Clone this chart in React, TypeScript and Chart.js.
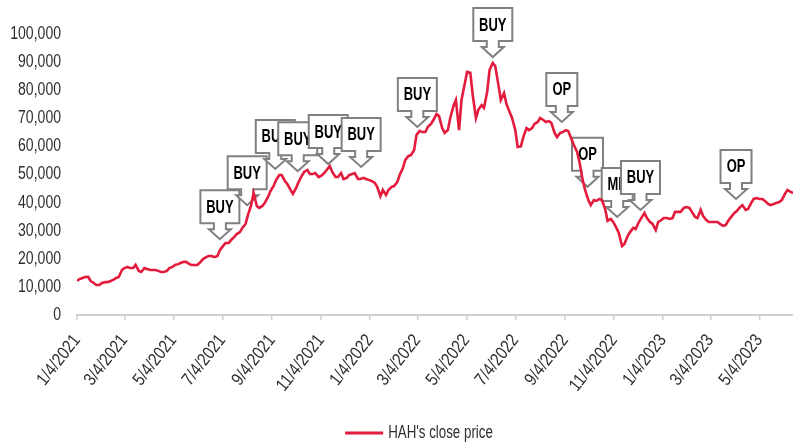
import { useEffect, useRef } from "react";
import { Chart, registerables } from "chart.js";

Chart.register(...registerables);

const FONT = '"Liberation Sans", Arial, "Noto Sans", sans-serif';
const SQUEEZE = 0.78; // narrow-typeface look
const FONT_SIZE = 18;

const seriesName = "HAH's close price";

// Weekly sessions: Monday close (weekStarts) and Thursday close (three days later)
const weekStarts = [
  "2021-01-04", "2021-01-11", "2021-01-18", "2021-01-25",
  "2021-02-01", "2021-02-08", "2021-02-15", "2021-02-22",
  "2021-03-01", "2021-03-08", "2021-03-15", "2021-03-22", "2021-03-29",
  "2021-04-05", "2021-04-12", "2021-04-19", "2021-04-26",
  "2021-05-03", "2021-05-10", "2021-05-17", "2021-05-24", "2021-05-31",
  "2021-06-07", "2021-06-14", "2021-06-21", "2021-06-28",
  "2021-07-05", "2021-07-12", "2021-07-19", "2021-07-26",
  "2021-08-02", "2021-08-09", "2021-08-16", "2021-08-23", "2021-08-30",
  "2021-09-06", "2021-09-13", "2021-09-20", "2021-09-27",
  "2021-10-04", "2021-10-11", "2021-10-18", "2021-10-25",
  "2021-11-01", "2021-11-08", "2021-11-15", "2021-11-22", "2021-11-29",
  "2021-12-06", "2021-12-13", "2021-12-20", "2021-12-27",
  "2022-01-03", "2022-01-10", "2022-01-17", "2022-01-24", "2022-01-31",
  "2022-02-07", "2022-02-14", "2022-02-21", "2022-02-28",
  "2022-03-07", "2022-03-14", "2022-03-21", "2022-03-28",
  "2022-04-04", "2022-04-11", "2022-04-18", "2022-04-25",
  "2022-05-02", "2022-05-09", "2022-05-16", "2022-05-23", "2022-05-30",
  "2022-06-06", "2022-06-13", "2022-06-20", "2022-06-27",
  "2022-07-04", "2022-07-11", "2022-07-18", "2022-07-25",
  "2022-08-01", "2022-08-08", "2022-08-15", "2022-08-22", "2022-08-29",
  "2022-09-05", "2022-09-12", "2022-09-19", "2022-09-26",
  "2022-10-03", "2022-10-10", "2022-10-17", "2022-10-24", "2022-10-31",
  "2022-11-07", "2022-11-14", "2022-11-21", "2022-11-28",
  "2022-12-05", "2022-12-12", "2022-12-19", "2022-12-26",
  "2023-01-02", "2023-01-09", "2023-01-16", "2023-01-23", "2023-01-30",
  "2023-02-06", "2023-02-13", "2023-02-20", "2023-02-27",
  "2023-03-06", "2023-03-13", "2023-03-20", "2023-03-27",
  "2023-04-03", "2023-04-10", "2023-04-17", "2023-04-24",
  "2023-05-01", "2023-05-08", "2023-05-15", "2023-05-22", "2023-05-29",
  "2023-06-05", "2023-06-12",
];

const mondayClose = [
  12100, 13200, 13600, 11400, 10700, 11700, 12100, 13200, 16000, 17100,
  16700, 15700, 16700, 16000, 16000, 15300, 15700, 17100, 18100, 18900,
  18100, 17800, 18900, 20600, 21000, 21000, 24600, 25600, 27800, 29500,
  32400, 39100, 38800, 38800, 42000, 45900, 49800, 47700, 44500, 45200,
  49500, 51600, 50200, 49100, 50500, 53000, 49100, 50500, 48800, 50200,
  48400, 48800, 48000, 47000, 42300, 42700, 45600, 47300, 52300, 56600,
  58700, 65500, 65100, 68000, 71500, 66500, 65800, 74400, 65800, 82200,
  86200, 70100, 74700, 79400, 89700, 81900, 79000, 72200, 65800, 60000,
  66500, 66500, 68700, 69400, 69000, 64800, 64800, 65800, 62600, 58000,
  48000, 40900, 40900, 41300, 37700, 34200, 31000, 24500, 28100, 31000,
  33100, 36300, 33100, 30200, 33800, 34500, 34500, 36700, 38100, 38100,
  34900, 37400, 33800, 33100, 33100, 31700, 33800, 36300, 38400, 37400,
  39900, 41600, 41300, 39500, 39500, 40200, 43100, 43800,
];

const thursdayClose = [
  12800, 13500, 12100, 10700, 11400, 11700, 12500, 13500, 16700, 16700,
  17800, 15300, 16400, 16000, 15700, 15300, 16700, 17800, 18500, 18900,
  17800, 17800, 19900, 21000, 20600, 23100, 25600, 26700, 28800, 31000,
  35600, 43400, 38100, 39900, 44100, 48000, 49800, 46600, 43100, 47300,
  50900, 50200, 50500, 49500, 51600, 50900, 49100, 48400, 49800, 50500,
  48400, 48400, 47700, 45600, 44500, 44500, 45900, 49800, 55200, 56900,
  64100, 65100, 66900, 69400, 70800, 64800, 70100, 76500, 76500, 86500,
  78300, 73000, 73700, 87200, 88600, 76500, 75100, 70100, 59800, 63300,
  65800, 68000, 70100, 68700, 68300, 63300, 65100, 65500, 60500, 54400,
  44500, 39100, 40600, 40900, 33500, 33100, 29200, 25300, 29500, 30600,
  34500, 34500, 32400, 33100, 34500, 34200, 36700, 36700, 38400, 36700,
  34500, 35200, 33100, 33100, 32400, 32000, 34900, 37000, 39100, 37700,
  41300, 41300, 40600, 39100, 39900, 40900, 44500, 43400,
];
const thursdayOffsetDays = 3;

const tickDates = [
  "2021-01-04", "2021-03-04", "2021-05-04", "2021-07-04", "2021-09-04",
  "2021-11-04", "2022-01-04", "2022-03-04", "2022-05-04", "2022-07-04",
  "2022-09-04", "2022-11-04", "2023-01-04", "2023-03-04", "2023-05-04",
];
const tickLabels = [
  "1/4/2021", "3/4/2021", "5/4/2021", "7/4/2021", "9/4/2021",
  "11/4/2021", "1/4/2022", "3/4/2022", "5/4/2022", "7/4/2022",
  "9/4/2022", "11/4/2022", "1/4/2023", "3/4/2023", "5/4/2023",
];

const axisStartDate = "2021-01-04";
const axisEndDate = "2023-06-15";
const yMin = 0;
const yMax = 100000;
const yStep = 10000;

const signalDates = [
  "2021-07-01", "2021-08-04", "2021-09-08", "2021-10-06", "2021-11-13",
  "2021-12-24", "2022-03-04", "2022-06-06", "2022-08-31", "2022-10-02",
  "2022-11-08", "2022-12-07", "2023-04-05",
];
const signalPrices = [
  27000, 39100, 52000, 51200, 53700, 52700, 66900, 91800, 68700, 45600,
  34900, 37400, 41300,
];
const signalLabels = [
  "BUY", "BUY", "BUY", "BUY", "BUY", "BUY", "BUY", "BUY", "OP", "OP",
  "MP", "BUY", "OP",
];

const LINE_COLOR = "#e31b3d";
const TEXT_COLOR = "#2e2e2e";

function toDay(s: string): number {
  const [y, m, d] = s.split("-").map(Number);
  const [y0, m0, d0] = axisStartDate.split("-").map(Number);
  return (Date.UTC(y, m - 1, d) - Date.UTC(y0, m0 - 1, d0)) / 86400000;
}

function narrowText(
  ctx: CanvasRenderingContext2D,
  text: string,
  x: number,
  y: number,
  align: CanvasTextAlign,
  sx: number,
  rotation = 0
) {
  ctx.save();
  ctx.translate(x, y);
  if (rotation) ctx.rotate(rotation);
  ctx.scale(sx, 1);
  ctx.textAlign = align;
  ctx.textBaseline = "middle";
  ctx.fillText(text, 0, 0);
  ctx.restore();
}

const calloutPlugin = {
  id: "callouts",
  beforeDatasetsDraw(chart: any) {
    const { ctx } = chart;
    const xs = chart.scales.x;
    const ys = chart.scales.y;
    const sx = 0.72;
    ctx.save();
    ctx.font = `bold 18px ${FONT}`;
    signalDates.forEach((d, i) => {
      const px = xs.getPixelForValue(toDay(d));
      const py = ys.getPixelForValue(signalPrices[i]);
      const label = signalLabels[i];
      const tw = ctx.measureText(label).width * sx;
      const w = Math.round(tw + 12);
      const h = 33;
      const headH = 10;
      const stemH = 6;
      const headHW = 11;
      const stemHW = 6;
      const boxBottom = py - headH - stemH;
      const top = boxBottom - h;
      const l = px - w / 2;
      const r = px + w / 2;
      ctx.beginPath();
      ctx.moveTo(l, top);
      ctx.lineTo(r, top);
      ctx.lineTo(r, boxBottom);
      ctx.lineTo(px + stemHW, boxBottom);
      ctx.lineTo(px + stemHW, boxBottom + stemH);
      ctx.lineTo(px + headHW, boxBottom + stemH);
      ctx.lineTo(px, py);
      ctx.lineTo(px - headHW, boxBottom + stemH);
      ctx.lineTo(px - stemHW, boxBottom + stemH);
      ctx.lineTo(px - stemHW, boxBottom);
      ctx.lineTo(l, boxBottom);
      ctx.closePath();
      ctx.fillStyle = "#ffffff";
      ctx.fill();
      ctx.lineWidth = 2;
      ctx.strokeStyle = "#808080";
      ctx.stroke();
      ctx.fillStyle = "#000000";
      narrowText(ctx, label, px, top + h / 2 + 1, "center", sx);
    });
    ctx.restore();
  },
};

const labelPlugin = {
  id: "narrowLabels",
  afterDraw(chart: any) {
    const { ctx, chartArea } = chart;
    const xs = chart.scales.x;
    const ys = chart.scales.y;
    ctx.save();
    ctx.fillStyle = TEXT_COLOR;
    ctx.font = `${FONT_SIZE}px ${FONT}`;
    ys.ticks.forEach((t: any) => {
      const py = ys.getPixelForValue(t.value);
      narrowText(ctx, Number(t.value).toLocaleString("en-US"), ys.right - 16, py, "right", SQUEEZE);
    });
    tickDates.forEach((d, i) => {
      const px = xs.getPixelForValue(toDay(d));
      narrowText(ctx, tickLabels[i], px, xs.top + 22, "right", 0.84, (-52 * Math.PI) / 180);
    });
    // legend
    const legendSqueeze = 0.74;
    const legendY = chart.height - 15;
    const textW = ctx.measureText(seriesName).width * legendSqueeze;
    const sample = 38;
    const gap = 5;
    const total = sample + gap + textW;
    const cx = (chartArea.left + chartArea.right) / 2 - 16;
    const lx = cx - total / 2;
    ctx.strokeStyle = LINE_COLOR;
    ctx.lineWidth = 3;
    ctx.beginPath();
    ctx.moveTo(lx, legendY);
    ctx.lineTo(lx + sample, legendY);
    ctx.stroke();
    narrowText(ctx, seriesName, lx + sample + gap, legendY, "left", legendSqueeze);
    ctx.restore();
  },
};

export default function App() {
  const canvasRef = useRef<HTMLCanvasElement | null>(null);

  useEffect(() => {
    const canvas = canvasRef.current;
    if (!canvas) return;
    const points: { x: number; y: number }[] = [];
    weekStarts.forEach((d, i) => {
      const day = toDay(d);
      points.push({ x: day, y: mondayClose[i] });
      points.push({ x: day + thursdayOffsetDays, y: thursdayClose[i] });
    });
    const chart = new Chart(canvas, {
      type: "line",
      data: {
        datasets: [
          {
            label: seriesName,
            data: points,
            borderColor: LINE_COLOR,
            backgroundColor: LINE_COLOR,
            borderWidth: 2.6,
            pointRadius: 0,
            tension: 0,
          },
        ],
      },
      options: {
        responsive: false,
        animation: false,
        devicePixelRatio: 1,
        layout: { padding: { top: 34, right: 0, left: 0, bottom: 0 } },
        plugins: {
          tooltip: { enabled: false },
          legend: { display: false },
        },
        scales: {
          x: {
            type: "linear",
            min: toDay(axisStartDate),
            max: toDay(axisEndDate),
            afterBuildTicks: (axis: any) => {
              axis.ticks = tickDates.map((d) => ({ value: toDay(d) }));
            },
            afterFit: (axis: any) => {
              axis.height = 133;
            },
            ticks: { display: false, autoSkip: false },
            grid: {
              display: true,
              drawOnChartArea: false,
              drawTicks: true,
              tickLength: 5,
              color: "#d0d0d0",
              lineWidth: 1.5,
            },
            border: { display: true, color: "#d0d0d0", width: 2 },
          },
          y: {
            type: "linear",
            min: yMin,
            max: yMax,
            afterFit: (axis: any) => {
              axis.width = 77;
            },
            ticks: { display: false, stepSize: yStep },
            grid: { display: false, drawTicks: false },
            border: { display: false },
          },
        },
      },
      plugins: [calloutPlugin, labelPlugin],
    });
    return () => chart.destroy();
  }, []);

  return (
    <div style={{ position: "fixed", left: 0, top: 0, width: 793, height: 448, background: "#fff" }}>
      <canvas ref={canvasRef} width={793} height={448} style={{ width: 793, height: 448, display: "block" }} />
    </div>
  );
}
